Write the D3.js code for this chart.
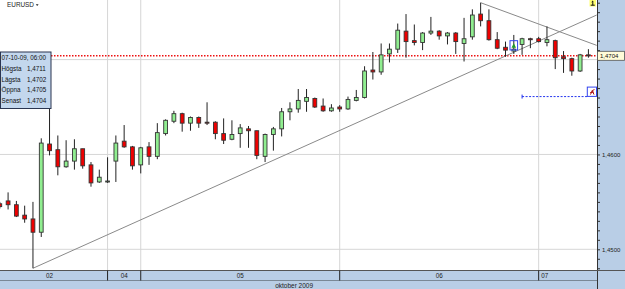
<!DOCTYPE html>
<html>
<head>
<meta charset="utf-8">
<script src="https://cdn.jsdelivr.net/npm/d3@7"></script>
<style>
  body { margin: 0; background: #fff; }
  svg { display: block; font-family: Arial, "Liberation Sans", sans-serif; }
</style>
</head>
<body>
<div id="chart"></div>
<script>
// EURUSD, hourly candles (02 okt 11:00 .. 07 okt 06:00)
const opens = [1.4548, 1.4551, 1.4547, 1.4536, 1.4532, 1.4518, 1.4611, 1.4605, 1.4587, 1.4593,
  1.4606, 1.4589, 1.4571, 1.4571, 1.4593, 1.4614, 1.4608, 1.4589, 1.4608, 1.4598,
  1.4622, 1.4635, 1.4643, 1.4633, 1.4639, 1.4634, 1.4634, 1.4622, 1.4616, 1.4622,
  1.4627, 1.4625, 1.4598, 1.4621, 1.4627, 1.4645, 1.4648, 1.4656, 1.4659, 1.4651,
  1.4646, 1.4650, 1.4648, 1.4657, 1.4660, 1.4689, 1.4687, 1.4706, 1.4711, 1.4730,
  1.4720, 1.4718, 1.4728, 1.4730, 1.4725, 1.4728, 1.4717, 1.4724, 1.4748, 1.4741,
  1.4721, 1.4713, 1.4709, 1.4716, 1.4722, 1.4722, 1.4718, 1.4720, 1.4703, 1.4701,
  1.4688, 1.4705];
const highs = [1.4550, 1.4560, 1.4551, 1.4546, 1.4550, 1.4617, 1.4648, 1.4620, 1.4615, 1.4616,
  1.4606, 1.4592, 1.4584, 1.4597, 1.4620, 1.4631, 1.4609, 1.4608, 1.4613, 1.4633,
  1.4637, 1.4646, 1.4644, 1.4640, 1.4640, 1.4655, 1.4635, 1.4638, 1.4636, 1.4632,
  1.4630, 1.4625, 1.4622, 1.4629, 1.4649, 1.4655, 1.4669, 1.4669, 1.4660, 1.4659,
  1.4653, 1.4652, 1.4661, 1.4668, 1.4693, 1.4708, 1.4717, 1.4717, 1.4738, 1.4748,
  1.4737, 1.4729, 1.4745, 1.4731, 1.4729, 1.4729, 1.4744, 1.4753, 1.4760, 1.4753,
  1.4729, 1.4719, 1.4726, 1.4723, 1.4723, 1.4724, 1.4735, 1.4721, 1.4709, 1.4702,
  1.4706, 1.4711];
const lows = [1.4543, 1.4542, 1.4534, 1.4528, 1.4480, 1.4513, 1.4599, 1.4578, 1.4586, 1.4584,
  1.4585, 1.4566, 1.4570, 1.4570, 1.4571, 1.4607, 1.4584, 1.4580, 1.4589, 1.4595,
  1.4620, 1.4633, 1.4624, 1.4625, 1.4628, 1.4631, 1.4616, 1.4611, 1.4615, 1.4607,
  1.4607, 1.4595, 1.4592, 1.4604, 1.4619, 1.4636, 1.4644, 1.4645, 1.4649, 1.4645,
  1.4645, 1.4645, 1.4647, 1.4656, 1.4659, 1.4679, 1.4684, 1.4697, 1.4707, 1.4702,
  1.4715, 1.4710, 1.4726, 1.4721, 1.4716, 1.4706, 1.4698, 1.4721, 1.4735, 1.4720,
  1.4711, 1.4703, 1.4706, 1.4705, 1.4712, 1.4718, 1.4714, 1.4690, 1.4686, 1.4683,
  1.4687, 1.4702];
const closes = [1.4545, 1.4547, 1.4535, 1.4532, 1.4518, 1.4612, 1.4604, 1.4587, 1.4593, 1.4606,
  1.4588, 1.4570, 1.4576, 1.4572, 1.4612, 1.4608, 1.4588, 1.4607, 1.4598, 1.4623,
  1.4636, 1.4643, 1.4633, 1.4639, 1.4633, 1.4633, 1.4622, 1.4615, 1.4621, 1.4628,
  1.4625, 1.4599, 1.4621, 1.4627, 1.4645, 1.4648, 1.4657, 1.4660, 1.4650, 1.4646,
  1.4649, 1.4648, 1.4658, 1.4660, 1.4688, 1.4687, 1.4705, 1.4711, 1.4731, 1.4719,
  1.4718, 1.4728, 1.4730, 1.4725, 1.4728, 1.4719, 1.4722, 1.4747, 1.4741, 1.4721,
  1.4712, 1.4710, 1.4711, 1.4722, 1.4721, 1.4719, 1.4721, 1.4702, 1.4701, 1.4688,
  1.4705, 1.4704];

const dayLabels = ["02", "04", "05", "06", "07"];
const dayStarts = [-1, 13, 17, 41, 65]; // candle index of first hour of each day
const monthLabel = "oktober 2009";
const priceTicks = [1.45, 1.46, 1.47];
const lastPrice = 1.4704;
const alertPrice = 1.4661;
const alertFrom = 63;
const markerAt = [62, 1.4715];
const trendUp = [[4, 1.4480], [72, 1.4747]];
const trendDown = [[58, 1.4760], [72, 1.4715]];
const infoTime = "07-10-09, 06:00";
const infoLabels = ["Högsta", "Lägsta", "Öppna", "Senast"];

const W = 625, H = 289;
const plotR = 597, plotB = 270.5;
const panel = "#b9cee6";

const fmt = d => d3.format(".4f")(d).replace(".", ",");

const x = d3.scaleLinear().domain([0, 72]).range([-0.2, 596.7]);
const y = d3.scaleLinear().domain([1.45, 1.47]).range([249.3, 59.6]);

const svg = d3.select("#chart").append("svg")
  .attr("width", W).attr("height", H);

svg.append("defs").append("clipPath").attr("id", "plot")
  .append("rect").attr("x", 0).attr("y", 0).attr("width", plotR).attr("height", plotB);

const plot = svg.append("g").attr("clip-path", "url(#plot)");

// grid
plot.selectAll(".hgrid").data(priceTicks).enter().append("line")
  .attr("x1", 0).attr("x2", plotR)
  .attr("y1", d => y(d)).attr("y2", d => y(d))
  .attr("stroke", "#d6d6d6");
plot.selectAll(".vgrid").data(dayStarts.slice(1)).enter().append("line")
  .attr("x1", d => x(d)).attr("x2", d => x(d))
  .attr("y1", 0).attr("y2", plotB)
  .attr("stroke", "#d6d6d6");

// last price line
plot.append("line")
  .attr("x1", 0).attr("x2", plotR)
  .attr("y1", y(lastPrice)).attr("y2", y(lastPrice))
  .attr("stroke", "#ee1111").attr("stroke-width", 1.6)
  .attr("stroke-dasharray", "1.5,1.5");

// trend lines
const line = d3.line().x(d => x(d[0])).y(d => y(d[1]));
[trendUp, trendDown].forEach(function (t) {
  plot.append("path").attr("d", line(t))
    .attr("fill", "none").attr("stroke", "#8a8a8a").attr("stroke-width", 1);
});

// candles
const idx = d3.range(opens.length);
const candles = plot.selectAll(".candle").data(idx).enter().append("g");
candles.append("line")
  .attr("x1", i => x(i)).attr("x2", i => x(i))
  .attr("y1", i => y(highs[i])).attr("y2", i => y(lows[i]))
  .attr("stroke", "#222").attr("stroke-width", 1);
candles.append("rect")
  .attr("x", i => x(i) - 1.9)
  .attr("width", 3.8)
  .attr("y", i => y(Math.max(opens[i], closes[i])))
  .attr("height", i => Math.max(1, Math.abs(y(opens[i]) - y(closes[i]))))
  .attr("fill", i => (closes[i] >= opens[i] ? "#90ee90" : "#ee0000"))
  .attr("stroke", "#333").attr("stroke-width", 0.9);

// marker box with green triangle
const mx = x(markerAt[0]), my = y(markerAt[1]);
plot.append("rect")
  .attr("x", mx - 3.8).attr("y", my - 4.7).attr("width", 7.6).attr("height", 9.3)
  .attr("fill", "none").attr("stroke", "#3344ee").attr("stroke-width", 1);
plot.append("path")
  .attr("d", `M${mx - 2.3},${my + 2.5}L${mx + 2.3},${my + 2.5}L${mx},${my - 2.2}Z`)
  .attr("fill", "#1f9a2a");

// alert line
const ay = y(alertPrice);
plot.append("line")
  .attr("x1", x(alertFrom)).attr("x2", x(71) - 1)
  .attr("y1", ay).attr("y2", ay)
  .attr("stroke", "#2233ee").attr("stroke-width", 1)
  .attr("stroke-dasharray", "2,1.5");
plot.append("line")
  .attr("x1", x(alertFrom)).attr("x2", x(alertFrom))
  .attr("y1", ay - 2).attr("y2", ay + 2)
  .attr("stroke", "#2233ee");
plot.append("rect")
  .attr("x", plotR - 9.7).attr("y", ay - 9.5).attr("width", 9.2).attr("height", 9.3)
  .attr("fill", "#fff").attr("stroke", "#3344ee").attr("stroke-width", 1);
plot.append("path")
  .attr("d", `M${plotR - 6.5},${ay - 2}L${plotR - 4.8},${ay - 6}L${plotR - 3},${ay - 2}M${plotR - 4.8},${ay - 6}L${plotR - 2.5},${ay - 7}M${plotR - 6.8},${ay - 4}L${plotR - 3.2},${ay - 4.5}`)
  .attr("fill", "none").attr("stroke", "#b01010").attr("stroke-width", 1);

// small yellow icon at top right
svg.append("rect")
  .attr("x", plotR - 7.5).attr("y", 0).attr("width", 6.5).attr("height", 6.5)
  .attr("fill", "#ffff70");
svg.append("path")
  .attr("d", `M${plotR - 4.2},1L${plotR - 4.2},5.2M${plotR - 6.3},5.2L${plotR - 2.2},5.2M${plotR - 5.3},2L${plotR - 4.2},1`)
  .attr("fill", "none").attr("stroke", "#111").attr("stroke-width", 1);

// right price axis panel
svg.append("rect")
  .attr("x", plotR).attr("y", 0).attr("width", W - plotR).attr("height", H)
  .attr("fill", panel);
const minorTicks = d3.range(1448, 1477).map(d => d / 1000);
// labels that would sit under the last price box are left out
const showLabel = d => priceTicks.some(p => Math.abs(p - d) < 1e-6) &&
  Math.abs(y(d) - y(lastPrice)) > 8;
const yAxis = svg.append("g")
  .attr("transform", `translate(${plotR},0)`)
  .call(d3.axisRight(y).tickValues(minorTicks).tickSize(3).tickPadding(2)
    .tickFormat(d => (showLabel(d) ? fmt(d) : "")));
yAxis.select(".domain").attr("stroke", "#333").attr("d", `M0.5,0V${H}`);
yAxis.selectAll(".tick line").attr("stroke", "#333");
yAxis.selectAll(".tick text").attr("fill", "#222").style("font-size", "6px")
  .style("font-family", "Arial, 'Liberation Sans', sans-serif");

// last price label
svg.append("rect")
  .attr("x", plotR + 0.5).attr("y", y(lastPrice) - 4.5).attr("width", W - plotR - 1).attr("height", 9)
  .attr("fill", "#fffbd8").attr("stroke", "#555").attr("stroke-width", 0.8);
svg.append("text")
  .attr("x", plotR + 3).attr("y", y(lastPrice) + 2.2)
  .attr("font-size", "6px").attr("fill", "#111")
  .text(fmt(lastPrice));

// bottom time axis
svg.append("rect")
  .attr("x", 0).attr("y", plotB).attr("width", plotR).attr("height", H - plotB)
  .attr("fill", panel);
svg.append("line").attr("x1", 0).attr("x2", W).attr("y1", plotB).attr("y2", plotB)
  .attr("stroke", "#555");
svg.append("line").attr("x1", 0).attr("x2", plotR).attr("y1", 280.5).attr("y2", 280.5)
  .attr("stroke", "#7a8896");
svg.selectAll(".daysep").data(dayStarts.slice(1)).enter().append("line")
  .attr("x1", d => x(d)).attr("x2", d => x(d))
  .attr("y1", plotB).attr("y2", 280.5)
  .attr("stroke", "#222");
svg.selectAll(".daylab").data(dayLabels).enter().append("text")
  .attr("x", (d, i) => (i < dayLabels.length - 1
    ? (x(dayStarts[i]) + x(dayStarts[i + 1])) / 2
    : x(dayStarts[i]) + 2.5))
  .attr("y", 278)
  .attr("text-anchor", (d, i) => (i < dayLabels.length - 1 ? "middle" : "start"))
  .attr("font-size", "6.3px").attr("fill", "#222")
  .text(d => d);
svg.append("text")
  .attr("x", (x(0) + x(opens.length - 1)) / 2).attr("y", 287.5)
  .attr("text-anchor", "middle")
  .attr("font-size", "6.5px").attr("fill", "#222")
  .text(monthLabel);

// symbol title
svg.append("text").attr("x", 7).attr("y", 7.3)
  .attr("font-size", "6.4px").attr("fill", "#222").text("EURUSD");
svg.append("path").attr("d", "M35.8,4.3L38.6,4.3L37.2,6Z").attr("fill", "#222");

// info box for the last candle
const last = opens.length - 1;
const infoValues = [highs[last], lows[last], opens[last], closes[last]];
const info = svg.append("g");
info.append("rect")
  .attr("x", 0.5).attr("y", 52).attr("width", 50.5).attr("height", 56.5)
  .attr("fill", "#c3d7ed").attr("stroke", "#2a3550").attr("stroke-width", 1);
info.append("text").attr("x", 1.5).attr("y", 59.6)
  .attr("font-size", "6.3px").attr("fill", "#111").text(infoTime);
info.selectAll(".lab").data(infoLabels).enter().append("text")
  .attr("x", 1.5).attr("y", (d, i) => 71 + i * 10.7)
  .attr("font-size", "6.3px").attr("fill", "#111").text(d => d);
info.selectAll(".val").data(infoValues).enter().append("text")
  .attr("x", 27).attr("y", (d, i) => 71 + i * 10.7)
  .attr("font-size", "6.3px").attr("fill", "#111").text(d => fmt(d));
</script>
</body>
</html>
